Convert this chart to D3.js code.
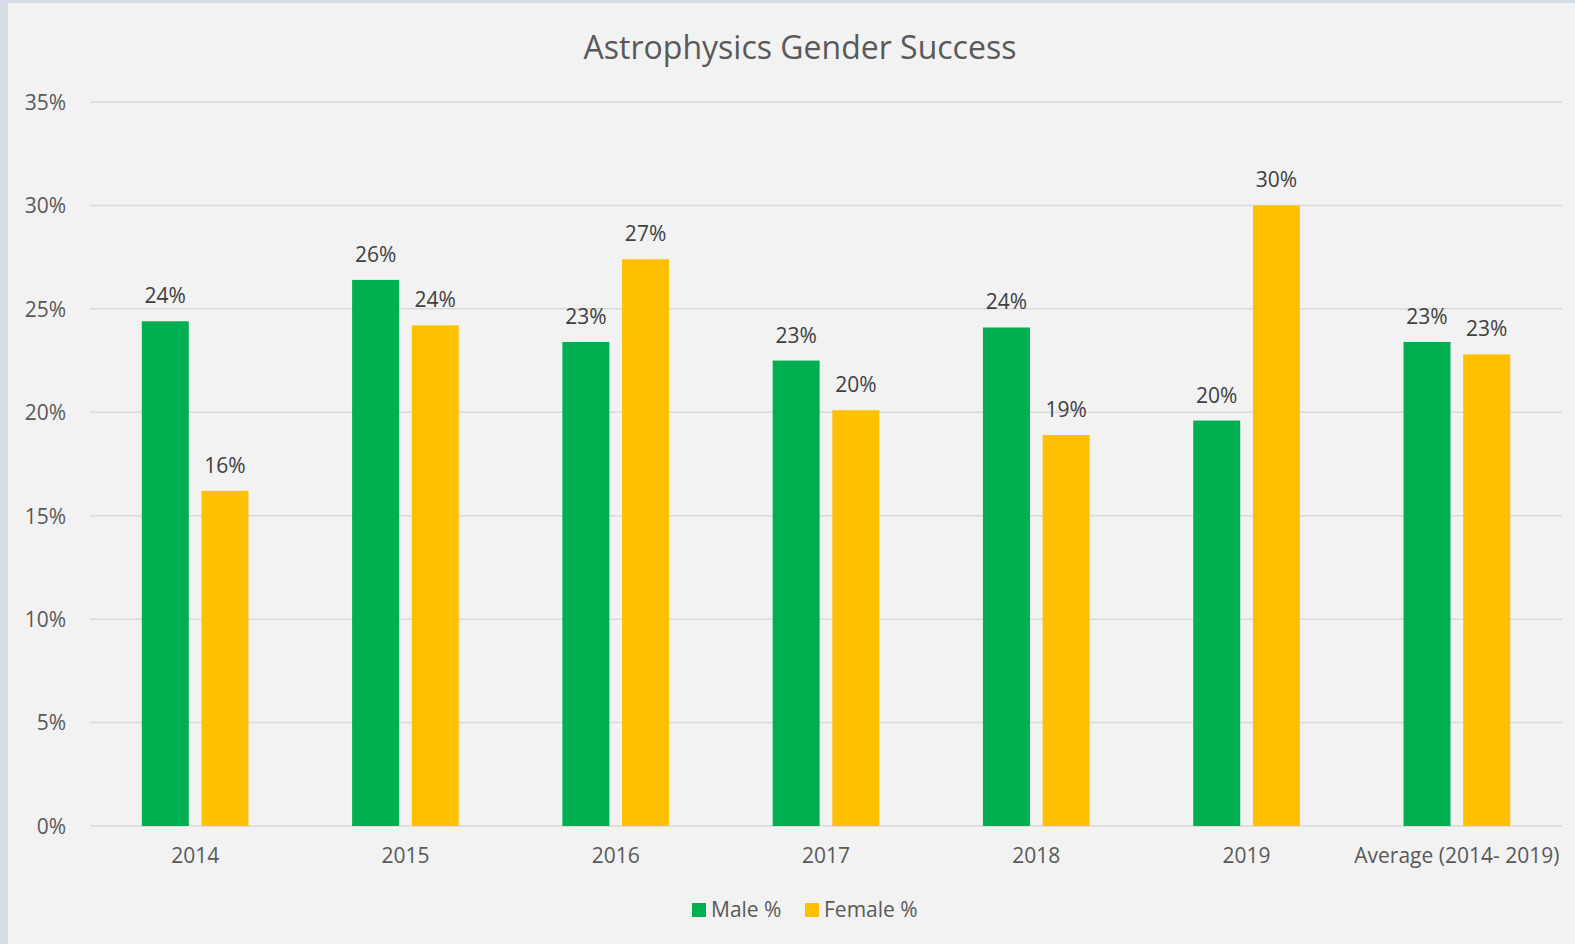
<!DOCTYPE html>
<html>
<head>
<meta charset="utf-8">
<script src="https://cdn.jsdelivr.net/npm/d3@7"></script>
<style>
  body { margin: 0; background: #d6dce5; }
  svg { display: block; }
</style>
</head>
<body>
<div id="chart"></div>
<script>
const categories = ["2014", "2015", "2016", "2017", "2018", "2019", "Average (2014- 2019)"]
const seriesNames = ["Male %", "Female %"]
const male = [24.4, 26.4, 23.4, 22.5, 24.1, 19.6, 23.4]
const female = [16.2, 24.2, 27.4, 20.1, 18.9, 30.0, 22.8]
const yTicks = [0, 5, 10, 15, 20, 25, 30, 35]
const colors = ["#00b050", "#ffc000"]

const width = 1575, height = 944
const margin = { left: 90, right: 13, top: 102, bottom: 118 }
const font = "'Open Sans', sans-serif"

const svg = d3.select("#chart")
    .append("svg")
    .attr("width", width)
    .attr("height", height)

// chart panel
svg.append("rect")
    .attr("x", 8)
    .attr("y", 3)
    .attr("width", width - 8)
    .attr("height", height - 3)
    .attr("fill", "#f2f2f2")

const x0 = d3.scaleBand()
    .domain(categories)
    .range([margin.left, width - margin.right])
    .padding(0)

const x1 = d3.scaleBand()
    .domain(seriesNames)
    .range([0, x0.bandwidth()])
    .paddingInner(0.213)
    .paddingOuter(0.868)

const y = d3.scaleLinear()
    .domain([0, 35])
    .range([height - margin.bottom, margin.top])

// gridlines
svg.append("g")
    .selectAll("line")
    .data(yTicks)
    .join("line")
    .attr("x1", margin.left)
    .attr("x2", width - margin.right)
    .attr("y1", d => y(d))
    .attr("y2", d => y(d))
    .attr("stroke", "#d9d9d9")
    .attr("stroke-width", 1.5)

// y axis
const yAxis = svg.append("g")
    .attr("transform", "translate(" + (margin.left - 21) + ",0)")
    .call(d3.axisLeft(y).tickValues(yTicks).tickFormat(d => d + "%").tickSize(0))
yAxis.select(".domain").remove()
yAxis.selectAll("text")
    .attr("fill", "#595959")
    .attr("dy", "0.35em")
    .style("font-family", font)
    .style("font-size", "21px")

// x axis
const xAxis = svg.append("g")
    .attr("transform", "translate(0," + y(0) + ")")
    .call(d3.axisBottom(x0).tickSize(0))
xAxis.select(".domain").remove()
xAxis.selectAll("text")
    .attr("fill", "#595959")
    .attr("y", 22)
    .attr("dy", "0.71em")
    .style("font-family", font)
    .style("font-size", "21px")

// bars
const rows = categories.map((c, i) => ({ cat: c, vals: [male[i], female[i]] }))

const groups = svg.append("g")
    .selectAll("g")
    .data(rows)
    .join("g")
    .attr("transform", d => "translate(" + x0(d.cat) + ",0)")

groups.selectAll("rect")
    .data(d => d.vals.map((v, j) => ({ key: seriesNames[j], v: v, j: j })))
    .join("rect")
    .attr("x", d => x1(d.key))
    .attr("y", d => y(d.v))
    .attr("width", x1.bandwidth())
    .attr("height", d => y(0) - y(d.v))
    .attr("fill", d => colors[d.j])

groups.selectAll("text")
    .data(d => d.vals.map((v, j) => ({ key: seriesNames[j], v: v })))
    .join("text")
    .attr("x", d => x1(d.key) + x1.bandwidth() / 2)
    .attr("y", d => y(d.v) - 18)
    .attr("text-anchor", "middle")
    .attr("fill", "#404040")
    .style("font-family", font)
    .style("font-size", "21px")
    .text(d => Math.round(d.v) + "%")

// title
svg.append("text")
    .attr("x", 800)
    .attr("y", 59)
    .attr("text-anchor", "middle")
    .attr("fill", "#595959")
    .style("font-family", font)
    .style("font-size", "32px")
    .text("Astrophysics Gender Success")

// legend
const legendX = [692, 805]
const legend = svg.append("g")
    .selectAll("g")
    .data(seriesNames)
    .join("g")
    .attr("transform", (d, i) => "translate(" + legendX[i] + ",903)")
legend.append("rect")
    .attr("width", 14)
    .attr("height", 14)
    .attr("fill", (d, i) => colors[i])
legend.append("text")
    .attr("x", 19)
    .attr("y", 14)
    .attr("fill", "#595959")
    .style("font-family", font)
    .style("font-size", "21px")
    .text(d => d)
</script>
</body>
</html>
